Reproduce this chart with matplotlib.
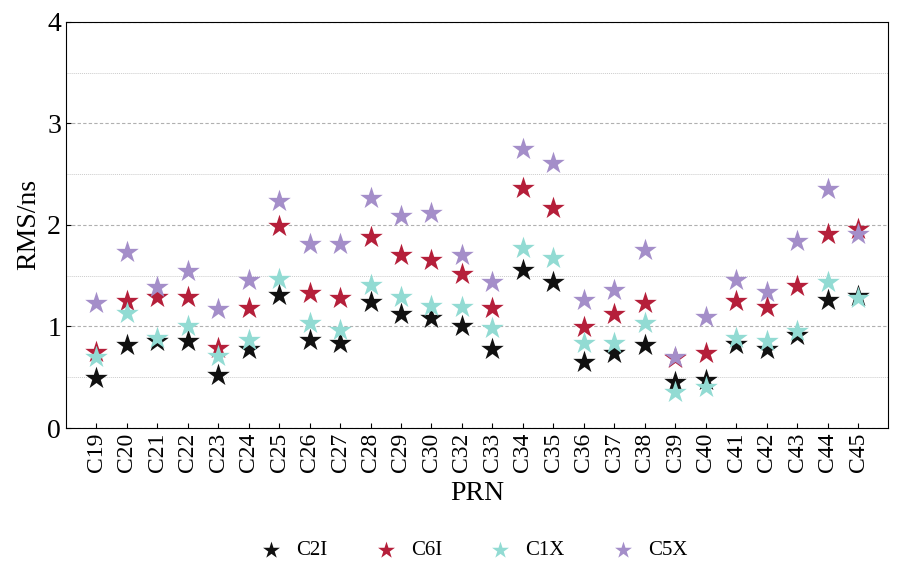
import matplotlib
matplotlib.use("Agg")
import matplotlib.pyplot as plt

plt.rcParams["font.family"] = ["Liberation Serif", "DejaVu Serif"]

prn = ["C19", "C20", "C21", "C22", "C23", "C24", "C25", "C26", "C27", "C28",
       "C29", "C30", "C32", "C33", "C34", "C35", "C36", "C37", "C38", "C39",
       "C40", "C41", "C42", "C43", "C44", "C45"]
c2i = [0.49, 0.82, 0.86, 0.86, 0.52, 0.78, 1.31, 0.87, 0.84, 1.24, 1.12, 1.08, 1.00,
       0.78, 1.56, 1.44, 0.65, 0.74, 0.82, 0.45, 0.47, 0.83, 0.78, 0.92, 1.26, 1.30]
c6i = [0.75, 1.25, 1.29, 1.29, 0.79, 1.18, 1.99, 1.33, 1.28, 1.88, 1.70, 1.65, 1.52,
       1.18, 2.36, 2.17, 0.99, 1.12, 1.23, 0.69, 0.74, 1.25, 1.19, 1.40, 1.91, 1.96]
c1x = [0.70, 1.13, 0.89, 1.00, 0.71, 0.87, 1.47, 1.03, 0.97, 1.41, 1.29, 1.20, 1.19,
       0.98, 1.77, 1.67, 0.84, 0.84, 1.03, 0.35, 0.40, 0.89, 0.86, 0.96, 1.44, 1.28]
c5x = [1.23, 1.73, 1.39, 1.55, 1.17, 1.46, 2.24, 1.81, 1.81, 2.26, 2.09, 2.12, 1.70,
       1.44, 2.75, 2.61, 1.26, 1.36, 1.75, 0.70, 1.09, 1.46, 1.34, 1.84, 2.35, 1.91]

series = [("C2I", c2i, "#111111"), ("C6I", c6i, "#b51f3a"),
          ("C1X", c1x, "#92dbd3"), ("C5X", c5x, "#a48ec9")]

fig = plt.figure(figsize=(9.02, 5.73), dpi=100)
ax = fig.add_axes([0.073, 0.253, 0.912, 0.709])
x = list(range(len(prn)))
for name, vals, col in series:
    ax.scatter(x, vals, marker="*", s=290, color=col, label=name, linewidths=0, zorder=3)

ax.set_xlim(-1, len(prn))
ax.set_ylim(0, 4)
ax.set_yticks([0, 1, 2, 3, 4])
ax.set_yticks([0.5, 1.5, 2.5, 3.5], minor=True)
ax.grid(axis="y", which="major", linestyle=(0, (3, 2)), color="#b0b0b0", linewidth=0.8)
ax.grid(axis="y", which="minor", linestyle=(0, (1, 1)), color="#cccccc", linewidth=0.7)
ax.set_xticks(x)
ax.set_xticklabels(prn, rotation=90, fontsize=17)
ax.tick_params(axis="y", labelsize=20, direction="in")
ax.tick_params(axis="y", which="minor", length=0)
ax.tick_params(axis="x", direction="in")
ax.set_xlabel("PRN", fontsize=20, labelpad=6)
ax.set_ylabel("RMS/ns", fontsize=20)
fig.legend(loc="lower center", ncol=4, frameon=False, fontsize=15, markerscale=0.75,
           bbox_to_anchor=(0.52, -0.01), handletextpad=0.2, columnspacing=1.8)
fig.savefig("out.png", dpi=100)
